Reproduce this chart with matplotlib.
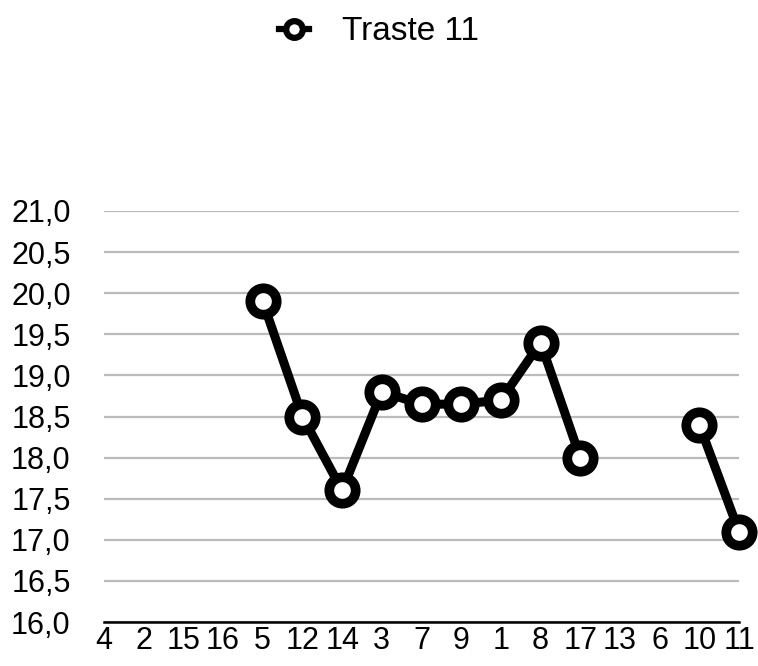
import numpy as np
import matplotlib.pyplot as plt
from matplotlib.lines import Line2D

plt.rcParams['font.family'] = ['Liberation Sans', 'DejaVu Sans']

# data
categorias = ['4', '2', '15', '16', '5', '12', '14', '3', '7', '9', '1', '8', '17', '13', '6', '10', '11']
traste_11 = [np.nan, np.nan, np.nan, np.nan, 19.9, 18.5, 17.6, 18.8, 18.65, 18.65, 18.7, 19.4, 18.0,
             np.nan, np.nan, 18.4, 17.1]
y_ticks = [16.0, 16.5, 17.0, 17.5, 18.0, 18.5, 19.0, 19.5, 20.0, 20.5, 21.0]

fig = plt.figure(figsize=(7.58, 6.66), dpi=100)
ax = fig.add_axes([104 / 758, 44 / 666, (739 - 104) / 758, (622 - 211) / 666])

x = np.arange(len(categorias))
ax.plot(x, traste_11, color='black', lw=6.5, marker='o', ms=19, mew=7,
        mfc='white', mec='black', clip_on=False, zorder=3)

ax.set_xlim(0, len(categorias) - 1)
ax.set_ylim(16, 21)
ax.set_yticks(y_ticks)
ax.set_yticklabels([f'{v:.1f}'.replace('.', ',') for v in y_ticks])
ax.set_xticks(x)
ax.set_xticklabels(categorias)
ax.tick_params(length=0, labelsize=22)
ax.tick_params(axis='x', pad=3)
ax.tick_params(axis='y', pad=24)

ax.grid(axis='y', color='#bbbbbb', lw=1.6)
ax.set_axisbelow(True)
for s in ['top', 'right', 'left']:
    ax.spines[s].set_visible(False)
ax.spines['bottom'].set_linewidth(1.8)
ax.spines['bottom'].set_zorder(2)

handle = Line2D([], [], color='black', lw=4.5, marker='o', ms=12, mew=4.5, mfc='white', mec='black')
fig.legend([handle], ['Traste 11'], loc='center', bbox_to_anchor=(0.5, 1 - 32 / 666),
           frameon=False, fontsize=24, handlelength=0.9, handletextpad=1.0)

fig.savefig('out.png', dpi=100)
